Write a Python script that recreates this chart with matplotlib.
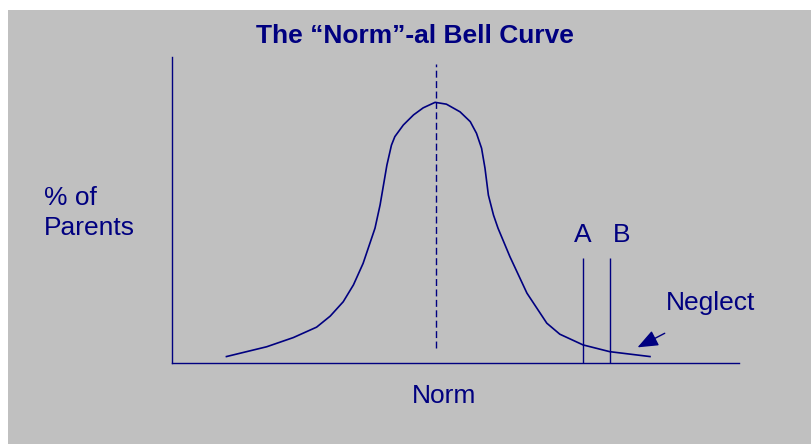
import numpy as np
import matplotlib.pyplot as plt
from matplotlib.patches import Rectangle

# points (x = norm scale 0-100, y = % of parents 0-100)
curve_x = [9.6, 16.7, 21.4, 25.5, 27.9, 30.2, 32.0, 33.7, 35.8, 36.7, 37.3, 37.9, 38.7, 39.3,
           40.8, 42.6, 44.3, 46.4, 48.4, 50.8, 52.6, 53.7, 54.6, 55.2, 55.8, 56.7, 57.5,
           59.6, 62.6, 66.1, 68.4, 72.5, 77.2, 84.3]
curve_y = [2.2, 5.4, 8.4, 11.8, 15.4, 20.1, 25.6, 32.6, 44.1, 51.7, 58.2, 64.7, 71.2, 74.0,
           77.8, 81.1, 83.4, 85.2, 84.6, 82.1, 78.9, 75.1, 70.2, 63.7, 54.9, 48.4, 44.1,
           34.8, 22.9, 13.1, 9.5, 6.0, 3.8, 2.2]

norm_x = 46.5
norm_span = [5.0, 97.7]

cut_labels = ["A", "B"]
cut_x = [72.5, 77.2]
cut_top = 34.3

navy = "#000080"
gray = "#C0C0C0"

plt.rcParams['font.family'] = ['Liberation Sans', 'DejaVu Sans']

fig = plt.figure(figsize=(8.12, 4.44), dpi=100)
fig.patches.append(Rectangle((8 / 812, 0), 1 - 8 / 812, 434 / 444, transform=fig.transFigure,
                             facecolor=gray, edgecolor="none", zorder=-10))

ax = fig.add_axes([172 / 812, 80.7 / 444, 567 / 812, 306.3 / 444])
ax.set_facecolor("none")
ax.set_xlim(0, 100)
ax.set_ylim(0, 100)
for s in ["top", "right"]:
    ax.spines[s].set_visible(False)
for s in ["left", "bottom"]:
    ax.spines[s].set_color(navy)
    ax.spines[s].set_linewidth(1.0)
ax.set_xticks([])
ax.set_yticks([])

ax.plot(curve_x, curve_y, color=navy, lw=1.2, solid_joinstyle="round")
ax.plot([norm_x, norm_x], norm_span, color=navy, lw=1.0, linestyle=(0, (5, 2.5)))

ax.vlines(cut_x, 0, cut_top, color=navy, lw=1.0)
ax.text(cut_x[0], 41.9, cut_labels[0], color=navy, fontsize=19, ha="center", va="center")
ax.text(cut_x[1] + 2.1, 41.9, cut_labels[1], color=navy, fontsize=19, ha="center", va="center")

ax.annotate("", xy=(82.1, 5.2), xytext=(86.9, 9.8),
            arrowprops=dict(arrowstyle="-|>,head_length=0.45,head_width=0.18", color=navy,
                            lw=1.0, mutation_scale=28, shrinkA=0, shrinkB=0))
ax.text(87.1, 19.8, "Neglect", color=navy, fontsize=19, ha="left", va="center")

ax.text(48.0, -10.7, "Norm", color=navy, fontsize=19, ha="center", va="center", clip_on=False)
ax.text(-22.6, 41.9, "% of\nParents", color=navy, fontsize=19, ha="left", va="baseline",
        linespacing=1.3, clip_on=False)
ax.text(42.9, 107.0, "The \u201cNorm\u201d-al Bell Curve", color=navy, fontsize=19,
        fontweight="bold", ha="center", va="center", clip_on=False)

plt.savefig("out.png", dpi=100)
